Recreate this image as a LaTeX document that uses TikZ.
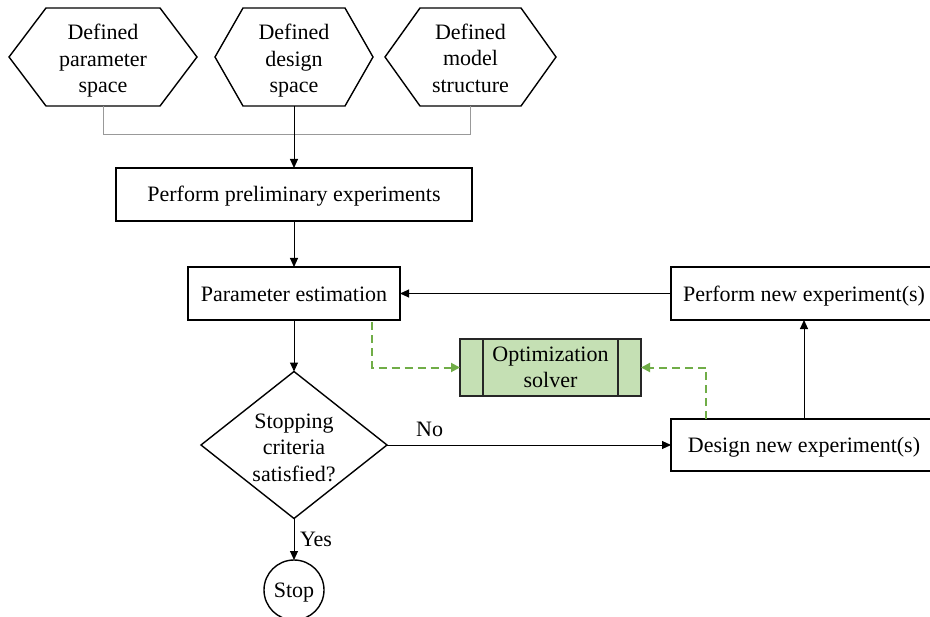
\documentclass[tikz,border=0pt]{standalone}
\usepackage{fontspec}
\setmainfont{Liberation Serif}
\usetikzlibrary{arrows.meta,calc}
\definecolor{grn}{HTML}{70AD47}
\definecolor{grnfill}{HTML}{C5E0B4}
\begin{document}
\begin{tikzpicture}[x=1bp,y=-1bp,
  txt/.style={font=\fontsize{22bp}{26.5bp}\selectfont, align=center, inner sep=0pt, outer sep=0pt},
  oneline/.style={txt, text height=18bp, text depth=3bp},
  shapebox/.style={rectangle, inner sep=0pt, outer sep=0pt},
  boxed/.style={oneline, rectangle, draw, line width=1.4bp},
  outline/.style={draw, line width=1.4bp, line join=miter},
  arr/.style={draw, line width=1bp, -{Triangle[length=9bp,width=8bp]}},
  gline/.style={draw=black!40, line width=1bp},
  gdash/.style={draw=grn, line width=2bp, dash pattern=on 8bp off 5bp, -{Triangle[length=9bp,width=9bp]}}
]
\useasboundingbox (0,0) rectangle (930,617);

% hexagons
\node[shapebox, minimum width=188bp, minimum height=98bp] (h1) at (103,57) {};
\node[shapebox, minimum width=158bp, minimum height=98bp] (h2) at (294,57) {};
\node[shapebox, minimum width=171bp, minimum height=98bp] (h3) at (470.5,57) {};
\node[txt] (h1t) at ([yshift=-4bp]h1.center) {Defined\\parameter\\space};
\node[txt] (h2t) at ([yshift=-4bp]h2.center) {Defined\\design\\space};
\node[txt] (h3t) at ([yshift=-1bp]h3.center) {Defined\\model\\structure};
\draw[outline] (h1.west) -- ([xshift=37bp]h1.north west) -- ([xshift=-37bp]h1.north east) -- (h1.east) -- ([xshift=-37bp]h1.south east) -- ([xshift=37bp]h1.south west) -- cycle;
\draw[outline] (h2.west) -- ([xshift=28bp]h2.north west) -- ([xshift=-28bp]h2.north east) -- (h2.east) -- ([xshift=-28bp]h2.south east) -- ([xshift=28bp]h2.south west) -- cycle;
\draw[outline] (h3.west) -- ([xshift=35bp]h3.north west) -- ([xshift=-35bp]h3.north east) -- (h3.east) -- ([xshift=-35bp]h3.south east) -- ([xshift=35bp]h3.south west) -- cycle;

% boxes
\node[boxed, minimum width=356bp, minimum height=53bp] (pre) at (294,194.5) {Perform preliminary experiments};
\node[boxed, minimum width=212bp, minimum height=53bp] (pe) at (294,293.5) {Parameter estimation};
\node[boxed, minimum width=266bp, minimum height=53bp] (pne) at (804,293.5) {Perform new experiment(s)};
\node[boxed, minimum width=266bp, minimum height=52bp] (dne) at (804,445) {Design new experiment(s)};
\node[txt, rectangle, draw=black!85, line width=1.4bp, fill=grnfill, minimum width=181bp, minimum height=57bp] (sol) at (550.5,367.5) {Optimization\\solver};
\draw[draw=black!85, line width=1.4bp] ([xshift=23bp]sol.north west) -- ([xshift=23bp]sol.south west);
\draw[draw=black!85, line width=1.4bp] ([xshift=-23bp]sol.north east) -- ([xshift=-23bp]sol.south east);

% diamond
\node[shapebox, minimum width=186bp, minimum height=147bp] (dia) at (294,445) {};
\node[txt] (diat) at ([yshift=-2.5bp]dia.center) {Stopping\\criteria\\satisfied?};
\draw[outline] (dia.north) -- (dia.east) -- (dia.south) -- (dia.west) -- cycle;

% stop
\node[oneline, circle, draw, line width=1.4bp, minimum size=60bp] (stop) at (294,590) {Stop};

% connectors
\draw[gline] (h1.south) -- ++(0,29) -| (h3.south);
\draw[arr] (h2.south) -- (pre.north);
\draw[arr] (pre.south) -- (pe.north);
\draw[arr] (pe.south) -- (dia.north);
\draw[arr] (dia.south) -- node[txt, midway, right=6bp] {Yes} (stop.north);
\draw[arr] (dia.east) -- node[txt, pos=0.15, above=8bp] {No} (dne.west);
\draw[arr] (pne.west) -- (pe.east);
\draw[arr] (dne.north) -- (pne.south);
\draw[gdash] ([xshift=78bp,yshift=-2bp]pe.south) |- (sol.west);
\draw[gdash] ([xshift=-98bp]dne.north) |- (sol.east);
\end{tikzpicture}
\end{document}
